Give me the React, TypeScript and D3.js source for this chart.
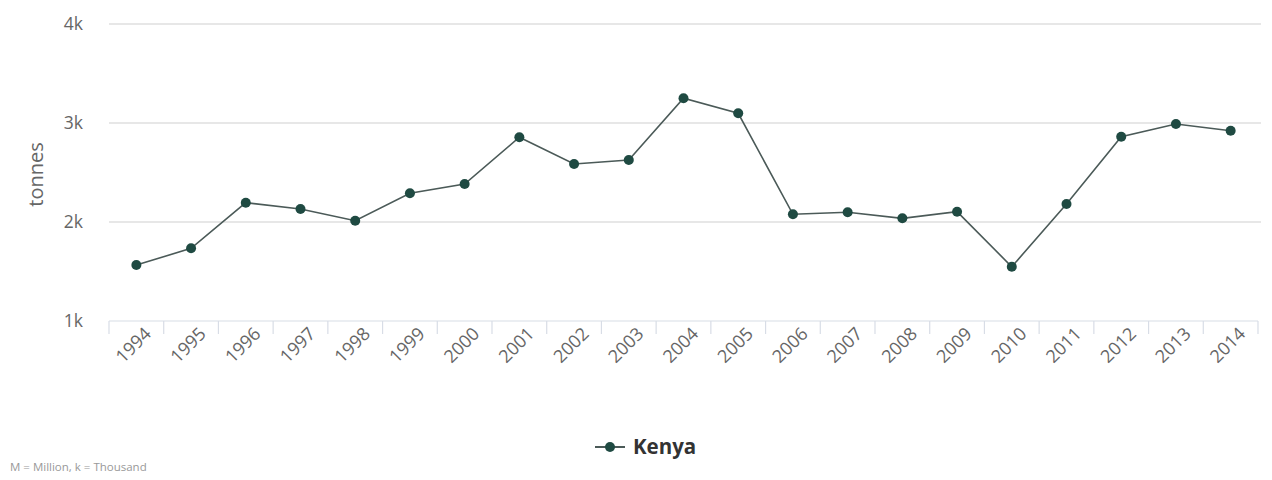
import React from "react";
import * as d3 from "d3";

const years: string[] = ["1994","1995","1996","1997","1998","1999","2000","2001","2002","2003","2004","2005","2006","2007","2008","2009","2010","2011","2012","2013","2014"];
const kenya: number[] = [1565,1734,2195,2131,2013,2290,2384,2856,2586,2626,3250,3098,2078,2098,2037,2104,1548,2182,2862,2990,2922];
const yTicks: number[] = [1000, 2000, 3000, 4000];
const yTickLabels: string[] = ["1k", "2k", "3k", "4k"];
const seriesName = "Kenya";
const yTitle = "tonnes";
const footnote = "M = Million, k = Thousand";

const W = 1272, H = 480;
const left = 109, right = 1258, top = 24, bottom = 321;
const FONT = "'Open Sans', 'DejaVu Sans', sans-serif";

export default function App() {
  const x = d3.scaleBand<string>().domain(years).range([left, right]);
  const y = d3.scaleLinear().domain([1000, 4000]).range([bottom, top]);
  const line = d3.line<number>()
    .x((_, i) => (x(years[i]) as number) + x.bandwidth() / 2)
    .y((d) => y(d));
  const bounds = years.map((yr) => x(yr) as number).concat([right]);
  const lineColor = "#4b5a58";
  const markColor = "#1f4a42";
  return (
    <div style={{ position: "absolute", left: 0, top: 0 }}>
      <svg width={W} height={H} style={{ display: "block", background: "#fff" }}>
        {yTicks.slice(1).map((t) => (
          <line key={t} x1={left} x2={right + 3} y1={y(t)} y2={y(t)} stroke="#cfcfcf" strokeWidth={1.2} />
        ))}
        <line x1={left} x2={right} y1={bottom} y2={bottom} stroke="#d8dde6" strokeWidth={1.2} />
        {bounds.map((b, i) => (
          <line key={i} x1={b} x2={b} y1={bottom} y2={bottom + 13} stroke="#d8dde6" strokeWidth={1.2} />
        ))}
        {yTicks.map((t, i) => (
          <text key={t} x={83} y={y(t)} dy="0.35em" textAnchor="end" fontFamily={FONT} fontSize={17.5} fill="#666">
            {yTickLabels[i]}
          </text>
        ))}
        <text transform={`translate(43,${(top + bottom) / 2 + 2}) rotate(-90)`} textAnchor="middle" fontFamily={FONT} fontSize={20} fill="#666">
          {yTitle}
        </text>
        {years.map((yr) => {
          const cx = (x(yr) as number) + x.bandwidth() / 2 + 16;
          const cy = bottom + 14;
          return (
            <text key={yr} transform={`translate(${cx},${cy}) rotate(-45)`} textAnchor="end" fontFamily={FONT} fontSize={18} fill="#666">
              {yr}
            </text>
          );
        })}
        <path d={line(kenya) || ""} fill="none" stroke={lineColor} strokeWidth={1.6} />
        {kenya.map((v, i) => (
          <circle key={i} cx={(x(years[i]) as number) + x.bandwidth() / 2} cy={y(v)} r={5} fill={markColor} />
        ))}
        <line x1={595} x2={625} y1={447} y2={447} stroke={lineColor} strokeWidth={2} />
        <circle cx={610} cy={447} r={5} fill={markColor} />
        <text x={633} y={454} fontFamily={FONT} fontSize={20.5} fontWeight="bold" fill="#333">
          {seriesName}
        </text>
        <text x={10} y={471} fontFamily={FONT} fontSize={11.5} fill="#999">
          {footnote}
        </text>
      </svg>
    </div>
  );
}
